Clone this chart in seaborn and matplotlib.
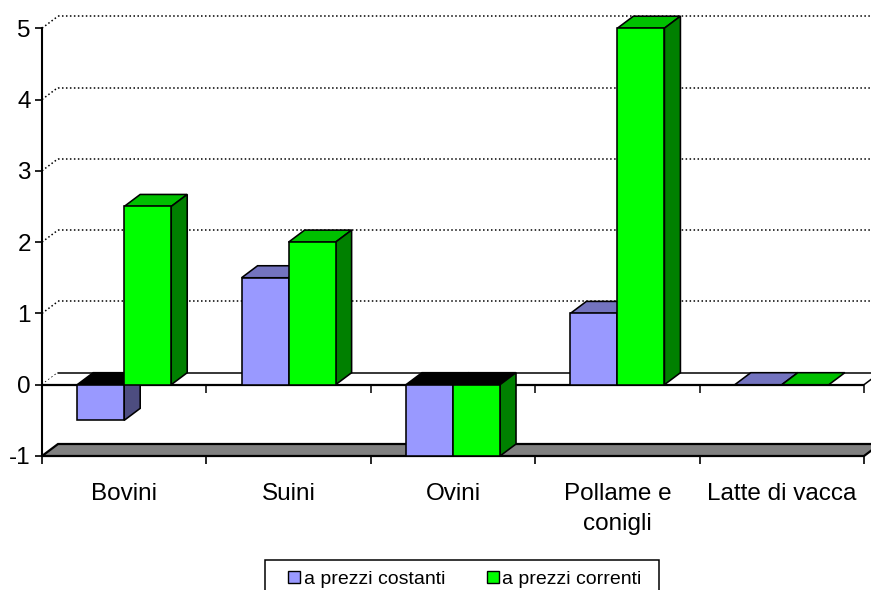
import matplotlib
matplotlib.use("Agg")
import matplotlib.pyplot as plt
from matplotlib.patches import Polygon, Patch, Rectangle
import pandas as pd
import seaborn as sns

# ---- data -------------------------------------------------------------
categorie = ["Bovini", "Suini", "Ovini", "Pollame e\nconigli", "Latte di vacca"]
prezzi_costanti = [-0.5, 1.5, -1.0, 1.0, 0.0]
prezzi_correnti = [2.5, 2.0, -1.0, 5.0, 0.0]
serie = ["a prezzi costanti", "a prezzi correnti"]
y_ticks = [-1, 0, 1, 2, 3, 4, 5]

# colours of the three visible faces of each prism: front, top, side
facce = {
    "a prezzi costanti": ("#9999FF", "#7373BF", "#4D4D80"),
    "a prezzi correnti": ("#00FF00", "#00C000", "#008000"),
}

df = pd.DataFrame({
    "categoria": categorie * 2,
    "valore": prezzi_costanti + prezzi_correnti,
    "serie": [serie[0]] * len(categorie) + [serie[1]] * len(categorie),
})

# ---- figure ----------------------------------------------------------
sns.set_theme(style="white")
plt.rcParams["font.family"] = ["Liberation Sans", "DejaVu Sans"]
plt.rcParams["axes.unicode_minus"] = False
plt.rcParams["text.color"] = "black"
plt.rcParams["xtick.color"] = "black"
plt.rcParams["ytick.color"] = "black"
plt.rcParams["xtick.labelcolor"] = "black"
plt.rcParams["ytick.labelcolor"] = "black"

W, H = 871, 590
fig = plt.figure(figsize=(W / 100, H / 100), dpi=100)
fig.patch.set_facecolor("white")

# plotting box in pixels: left edge, width of one category, baseline (-1), one unit
x_left, x_unit, y_base, y_unit = 42, 164.4, 456, 71.3
ax = fig.add_axes([x_left / W, (H - y_base) / H, (W - x_left) / W, y_base / H])

n_before = len(ax.patches)
sns.barplot(data=df, x="categoria", y="valore", hue="serie",
            order=categorie, hue_order=serie,
            palette=[facce[s][0] for s in serie], saturation=1,
            width=0.572, errorbar=None, edgecolor="black", linewidth=1.15,
            legend=False, ax=ax)
barre = list(ax.patches)[n_before:]

n = len(categorie)
ax.set_xlim(-0.5, -0.5 + (W - x_left) / x_unit)
ax.set_ylim(y_ticks[0], y_ticks[0] + y_base / y_unit)

# depth of the 3-D effect, in data units
dx = 16 / x_unit
dy = 12 / y_unit
x0, x1 = -0.5, n - 0.5
ymin = y_ticks[0]

dotted = dict(color="black", lw=1.1, ls=(0, (1, 1.6)), clip_on=False, zorder=1)

# back-wall gridlines with their diagonal on the side wall
for v in y_ticks[1:]:
    ax.plot([x0, x0 + dx], [v, v + dy], **dotted)
    if v > 0:
        ax.plot([x0 + dx, x1 + dx], [v + dy, v + dy], **dotted)

# floor slab at the bottom of the scale
ax.add_patch(Polygon([(x0, ymin), (x1, ymin), (x1 + dx, ymin + dy), (x0 + dx, ymin + dy)],
                     closed=True, facecolor="#808080", edgecolor="black", lw=1.6,
                     joinstyle="miter", clip_on=False, zorder=1.5))

# plane through zero where the category axis crosses
ax.add_patch(Polygon([(x0, 0), (x1, 0), (x1 + dx, dy), (x0 + dx, dy)],
                     closed=True, facecolor="white", edgecolor="none",
                     clip_on=False, zorder=1.5))
ax.plot([x0, x1], [0, 0], color="black", lw=1.6, zorder=1.6, solid_capstyle="butt")
ax.plot([x0 + dx, x1 + dx], [dy, dy], color="black", lw=1.1, zorder=1.6, clip_on=False)
ax.plot([x1, x1 + dx], [0, dy], color="black", lw=1.1, zorder=1.6, clip_on=False)
bordi = [i + 0.5 for i in range(n)]
ax.vlines(bordi, -0.11, 0, color="black", lw=1.1, zorder=1.6)

# top and side faces of every bar drawn by seaborn (one series after the other)
for idx, bar in enumerate(barre):
    k = idx // n
    front, top, side = facce[serie[k]]
    bx, bw = bar.get_x(), bar.get_width()
    by, bh = bar.get_y(), bar.get_height()
    lo, hi = min(by, by + bh), max(by, by + bh)
    base_z = 3.0 + 0.2 * k
    bar.set_zorder(base_z + 0.05)
    bar.set_joinstyle("miter")
    top_col = "black" if lo < 0 and hi == 0 else top
    ax.add_patch(Polygon([(bx, hi), (bx + bw, hi), (bx + bw + dx, hi + dy), (bx + dx, hi + dy)],
                         closed=True, facecolor=top_col, edgecolor="black", lw=1.15,
                         joinstyle="miter", zorder=base_z, clip_on=False))
    if hi > lo:
        ax.add_patch(Polygon([(bx + bw, lo), (bx + bw, hi), (bx + bw + dx, hi + dy), (bx + bw + dx, lo + dy)],
                             closed=True, facecolor=side, edgecolor="black", lw=1.15,
                             joinstyle="miter", zorder=base_z, clip_on=False))

# ---- axes decoration ---------------------------------------------------
for s in ["top", "right", "bottom"]:
    ax.spines[s].set_visible(False)
ax.spines["left"].set_bounds(y_ticks[0], y_ticks[-1])
ax.spines["left"].set_linewidth(1.5)
ax.spines["left"].set_color("black")
ax.spines["left"].set_zorder(4)

ax.set_yticks(y_ticks)
ax.set_yticklabels([str(v) for v in y_ticks])
ax.tick_params(axis="y", direction="out", length=5, width=1.2, color="black",
               labelsize=17.5, pad=3, left=True, labelcolor="black")

ax.set_xticks(range(n))
ax.set_xticklabels(categorie)
ax.set_xticks([x0] + bordi, minor=True)
ax.tick_params(axis="x", which="major", length=0, labelsize=17.5, pad=19.5,
               bottom=True, labelcolor="black")
ax.tick_params(axis="x", which="minor", direction="out", length=6, width=1.2,
               color="black", bottom=True)
for t in ax.get_xticklabels():
    t.set_linespacing(1.45)

ax.set_xlabel("")
ax.set_ylabel("")
ax.grid(False)

# ---- legend ------------------------------------------------------------
handles = [Patch(facecolor=facce[s][0], edgecolor="black", linewidth=1.0, label=s) for s in serie]
leg = fig.legend(handles=handles, loc="upper left", bbox_to_anchor=(288 / W, 1 - 571 / H),
                 ncol=2, frameon=False, fontsize=14, handlelength=0.6, handleheight=0.6,
                 handletextpad=0.2, columnspacing=2.15, borderpad=0, borderaxespad=0)
for t in leg.get_texts():
    t.set_color("black")
# box around the legend, open at the bottom edge of the image
fig.add_artist(Rectangle((265 / W, -0.05), (659 - 265) / W, 0.05 + (H - 560) / H,
                         transform=fig.transFigure, fill=False, edgecolor="black",
                         lw=1.1, joinstyle="miter"))

fig.savefig("out.png", dpi=100)
